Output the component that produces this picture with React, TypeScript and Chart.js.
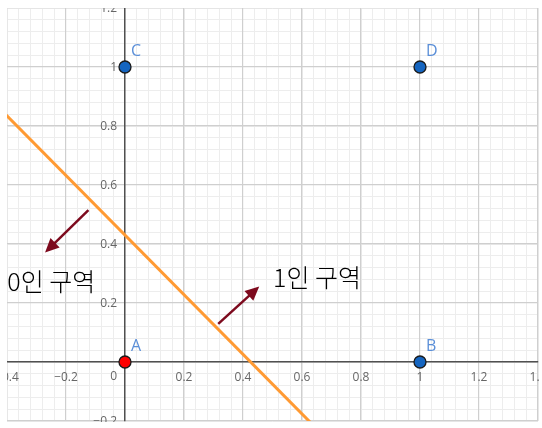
import React, { useEffect, useRef } from "react";
import { Chart, registerables } from "chart.js";

Chart.register(...registerables);

// ---- data ----
const xMin = -0.4;
const xMax = 1.4;
const yMin = -0.2;
const yMax = 1.2;
const xTicks = [-0.4, -0.2, 0, 0.2, 0.4, 0.6, 0.8, 1, 1.2, 1.4];
const yTicks = [-0.2, 0, 0.2, 0.4, 0.6, 0.8, 1, 1.2];
const minorStep = 0.04;

const pointNames = ["A", "B", "C", "D"];
const pointX = [0, 1, 0, 1];
const pointY = [0, 0, 1, 1];
const pointFill = ["#ff0000", "#1565c0", "#1565c0", "#1565c0"];

const boundaryX = [-0.5, 0.7];
const boundaryY = [0.935, -0.277];

const arrowFromX = [-0.124, 0.316];
const arrowFromY = [0.515, 0.129];
const arrowToX = [-0.271, 0.455];
const arrowToY = [0.371, 0.256];

const regionTexts = ["0인 구역", "1인 구역"];
const regionX = [-0.399, 0.502];
const regionY = [0.24, 0.255];

const fmt = (v: number) => {
  if (Math.abs(v) < 1e-9) return "";
  const s = Number(Math.abs(v).toFixed(2)).toString();
  return (v < 0 ? "\u2212" : "") + s;
};

const TICK_FONT = "12px 'Open Sans', sans-serif";
const TICK_COLOR = "#666666";

const overlayPlugin = {
  id: "overlay",
  beforeDatasetsDraw(chart: any) {
    const ctx = chart.ctx;
    const xs = chart.scales.x;
    const ys = chart.scales.y;
    ctx.save();
    ctx.fillStyle = TICK_COLOR;
    ctx.font = TICK_FONT;
    ctx.textAlign = "right";
    ctx.textBaseline = "middle";
    const ax = xs.getPixelForValue(0);
    for (const v of yTicks) {
      const t = fmt(v);
      if (!t) continue;
      ctx.fillText(t, ax - 8, ys.getPixelForValue(v) + 1);
    }
    // origin label
    ctx.textAlign = "right";
    ctx.fillText("0", ax - 8, ys.getPixelForValue(0) + 15);
    ctx.restore();
  },
  afterDatasetsDraw(chart: any) {
    const ctx = chart.ctx;
    const xs = chart.scales.x;
    const ys = chart.scales.y;
    ctx.save();
    // arrows
    const col = "#7d0a1e";
    for (let i = 0; i < arrowFromX.length; i++) {
      const x1 = xs.getPixelForValue(arrowFromX[i]);
      const y1 = ys.getPixelForValue(arrowFromY[i]);
      const x2 = xs.getPixelForValue(arrowToX[i]);
      const y2 = ys.getPixelForValue(arrowToY[i]);
      const ang = Math.atan2(y2 - y1, x2 - x1);
      const hl = 14;
      const hw = 6.5;
      const bx = x2 - hl * Math.cos(ang);
      const by = y2 - hl * Math.sin(ang);
      ctx.strokeStyle = col;
      ctx.lineWidth = 2.5;
      ctx.beginPath();
      ctx.moveTo(x1, y1);
      ctx.lineTo(bx + 2 * Math.cos(ang), by + 2 * Math.sin(ang));
      ctx.stroke();
      ctx.fillStyle = col;
      ctx.beginPath();
      ctx.moveTo(x2, y2);
      ctx.lineTo(bx + hw * Math.sin(ang), by - hw * Math.cos(ang));
      ctx.lineTo(bx - hw * Math.sin(ang), by + hw * Math.cos(ang));
      ctx.closePath();
      ctx.fill();
    }
    // region texts
    ctx.fillStyle = "#000";
    ctx.font = "300 25px 'Noto Sans CJK KR', sans-serif";
    ctx.textAlign = "left";
    ctx.textBaseline = "alphabetic";
    for (let i = 0; i < regionTexts.length; i++) {
      ctx.fillText(regionTexts[i], xs.getPixelForValue(regionX[i]), ys.getPixelForValue(regionY[i]));
    }
    // point labels
    ctx.fillStyle = "#5b8fd8";
    ctx.font = "16px 'Open Sans', sans-serif";
    for (let i = 0; i < pointNames.length; i++) {
      const px = xs.getPixelForValue(pointX[i]);
      const py = ys.getPixelForValue(pointY[i]);
      ctx.fillText(pointNames[i], px + 6, py - 11);
    }
    ctx.restore();
  },
};

export default function App() {
  const ref = useRef<HTMLCanvasElement | null>(null);
  useEffect(() => {
    if (!ref.current) return;
    const zeroPad = (s: any) => {
      s.paddingLeft = 0;
      s.paddingRight = 0;
      s.paddingTop = 0;
      s.paddingBottom = 0;
    };
    const chart = new Chart(ref.current, {
      type: "scatter",
      data: {
        datasets: [
          {
            data: pointX.map((x, i) => ({ x, y: pointY[i] })),
            pointRadius: 6,
            pointHoverRadius: 6,
            pointBackgroundColor: pointFill,
            pointBorderColor: "#1a1a1a",
            pointBorderWidth: 1.3,
            showLine: false,
          },
          {
            data: boundaryX.map((x, i) => ({ x, y: boundaryY[i] })),
            showLine: true,
            borderColor: "#ff9a33",
            borderWidth: 3,
            pointRadius: 0,
          },
        ],
      },
      options: {
        animation: false,
        responsive: false,
        events: [],
        layout: { autoPadding: false, padding: { left: 0, top: 0, right: 1, bottom: 1 } },
        plugins: { legend: { display: false }, tooltip: { enabled: false } },
        scales: {
          xMinor: {
            type: "linear",
            axis: "x",
            min: xMin,
            max: xMax,
            position: { y: 0 } as any,
            ticks: { display: false, stepSize: minorStep, maxTicksLimit: 200, autoSkip: false },
            grid: { color: "#ededed", lineWidth: 1, drawTicks: false, z: -3 } as any,
            border: { display: false },
            afterFit: zeroPad,
          },
          yMinor: {
            type: "linear",
            axis: "y",
            min: yMin,
            max: yMax,
            position: { x: 0 } as any,
            ticks: { display: false, stepSize: minorStep, maxTicksLimit: 200, autoSkip: false },
            grid: { color: "#ededed", lineWidth: 1, drawTicks: false, z: -3 } as any,
            border: { display: false },
            afterFit: zeroPad,
          },
          x: {
            type: "linear",
            min: xMin,
            max: xMax,
            position: { y: 0 } as any,
            afterBuildTicks: (s: any) => {
              s.ticks = xTicks.map((v) => ({ value: v }));
            },
            ticks: {
              callback: (v: any) => fmt(Number(v)),
              color: TICK_COLOR,
              font: { family: "'Open Sans', sans-serif", size: 12 },
              padding: 8,
              autoSkip: false,
              maxRotation: 0,
            },
            grid: { color: "#cfcfcf", lineWidth: 1.2, drawTicks: false },
            border: { color: "#505050", width: 1.5 },
            afterFit: zeroPad,
          },
          y: {
            type: "linear",
            min: yMin,
            max: yMax,
            position: { x: 0 } as any,
            afterBuildTicks: (s: any) => {
              s.ticks = yTicks.map((v) => ({ value: v }));
            },
            ticks: { display: false, autoSkip: false },
            grid: { color: "#cfcfcf", lineWidth: 1.2, drawTicks: false },
            border: { color: "#505050", width: 1.5 },
            afterFit: zeroPad,
          },
        },
      } as any,
      plugins: [overlayPlugin],
    });
    return () => chart.destroy();
  }, []);
  return (
    <div style={{ position: "absolute", left: 0, top: 0, width: 542, height: 428, background: "#fff" }}>
      <canvas
        ref={ref}
        width={532}
        height={414}
        style={{ position: "absolute", left: 7, top: 8, width: 532, height: 414 }}
      />
    </div>
  );
}
